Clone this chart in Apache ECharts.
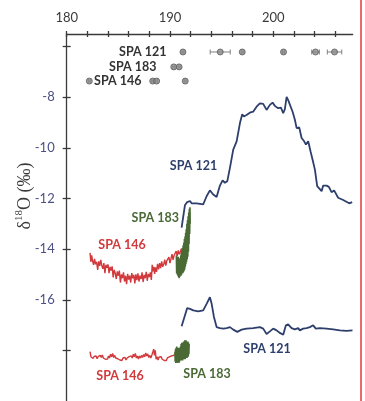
<!DOCTYPE html>
<html>
<head>
<meta charset="utf-8">
<script src="https://cdn.jsdelivr.net/npm/echarts@6/dist/echarts.min.js"></script>
<style>
  html, body { margin: 0; padding: 0; background: #fff; }
  #chart { width: 365px; height: 401px; }
</style>
</head>
<body>
<div id="chart"></div>
<script>
// axis ticks / labels
const xTicks = [180, 182, 184, 186, 188, 190, 192, 194, 196, 198, 200, 202, 204, 206];
const xLabels = [180, 190, 200];
const yTicks = [-18, -16, -14, -12, -10, -8, -6];
const yLabels = [-16, -14, -12, -10, -8];

// U-Th dates (ka) and 2σ errors, one row per stalagmite
const dates121 = [191.26, 194.87, 197.0, 201.0, 204.1, 205.94];
const err121 = [0.1, 0.97, 0.1, 0.1, 0.37, 0.7];
const dates183 = [190.37, 190.89];
const err183 = [0.1, 0.1];
const dates146 = [182.19, 188.33, 188.71, 191.48];
const err146 = [0.1, 0.1, 0.1, 0.1];
const rowLevel = [-6.21, -6.8, -7.36]; // 121, 183, 146

// SPA 121 upper record [age, value]
const spa121a = [[191.13,-13.15],[191.29,-13.19],[191.45,-12.27],[191.67,-12.14],[191.94,-12.10],[192.10,-12.19],[192.26,-12.13],[192.58,-12.19],[193.22,-12.23],[193.55,-11.91],[193.87,-11.68],[194.19,-11.84],[194.52,-11.94],[194.84,-11.49],[195.10,-11.28],[195.32,-11.38],[195.55,-11.32],[195.81,-10.79],[196.13,-10.07],[196.46,-9.74],[196.78,-9.02],[197.00,-8.67],[197.16,-8.76],[197.42,-8.70],[197.74,-8.61],[198.06,-8.57],[198.39,-8.37],[198.71,-8.24],[199.03,-8.26],[199.36,-8.50],[199.68,-8.30],[199.94,-8.21],[200.16,-8.34],[200.48,-8.43],[200.75,-8.41],[200.97,-8.63],[201.13,-8.47],[201.30,-7.98],[201.45,-8.11],[201.62,-8.04],[201.88,-8.57],[202.10,-8.89],[202.27,-9.22],[202.52,-9.19],[202.75,-9.61],[203.00,-9.74],[203.17,-9.87],[203.39,-9.74],[203.62,-10.14],[203.81,-10.46],[203.94,-10.44],[204.04,-10.86],[204.26,-11.51],[204.45,-11.49],[204.69,-11.71],[204.84,-11.49],[205.17,-11.49],[205.39,-11.54],[205.65,-11.75],[205.90,-11.68],[206.29,-11.97],[206.78,-12.06],[207.36,-12.19],[207.65,-12.14]];

// SPA 121 lower record
const spa121b = [[191.13,-17.05],[191.29,-17.08],[191.45,-16.62],[191.67,-16.33],[191.94,-16.36],[192.26,-16.42],[192.74,-16.46],[193.22,-16.42],[193.55,-16.16],[193.87,-15.90],[194.04,-16.16],[194.26,-16.68],[194.52,-17.08],[194.84,-17.12],[195.16,-17.14],[195.49,-17.12],[195.81,-17.08],[196.13,-17.18],[196.52,-17.27],[196.94,-17.18],[197.42,-17.14],[198.06,-17.12],[198.71,-17.08],[199.03,-17.14],[199.36,-17.35],[199.68,-17.25],[200.0,-17.14],[200.33,-17.21],[200.65,-17.31],[200.97,-17.38],[201.23,-17.01],[201.45,-16.97],[201.78,-17.12],[202.10,-17.17],[202.42,-17.12],[202.58,-17.21],[202.90,-17.14],[203.23,-17.12],[203.55,-17.08],[203.87,-17.01],[204.13,-17.14],[204.52,-17.12],[205.17,-17.14],[205.81,-17.17],[206.46,-17.21],[207.10,-17.23],[207.68,-17.21]];

// SPA 146 upper record
const spa146a = [[182.26,-14.15],[182.34,-14.5],[182.42,-14.25],[182.5,-14.45],[182.6,-14.62],[182.7,-14.38],[182.8,-14.6],[182.9,-14.5],[183.0,-14.82],[183.1,-14.48],[183.2,-14.66],[183.3,-14.42],[183.4,-14.65],[183.5,-14.78],[183.6,-14.55],[183.7,-14.95],[183.8,-14.62],[183.9,-14.74],[184.0,-14.6],[184.1,-14.95],[184.2,-14.7],[184.3,-14.85],[184.4,-14.68],[184.5,-15.12],[184.6,-14.82],[184.7,-14.95],[184.8,-15.18],[184.9,-14.88],[185.0,-15.05],[185.1,-14.85],[185.2,-15.32],[185.3,-15.0],[185.4,-15.15],[185.5,-14.92],[185.6,-15.28],[185.7,-15.05],[185.8,-15.38],[185.9,-14.98],[186.0,-15.2],[186.1,-15.05],[186.2,-15.32],[186.3,-14.95],[186.4,-15.15],[186.5,-15.02],[186.6,-15.35],[186.7,-15.0],[186.8,-15.22],[186.9,-14.96],[187.0,-15.28],[187.1,-15.05],[187.2,-15.18],[187.3,-14.92],[187.4,-15.3],[187.5,-15.02],[187.6,-15.15],[187.7,-14.9],[187.8,-15.25],[187.9,-14.98],[188.0,-15.1],[188.1,-14.92],[188.2,-15.22],[188.28,-14.62],[188.36,-14.88],[188.44,-14.7],[188.52,-14.98],[188.6,-14.72],[188.7,-14.9],[188.8,-14.58],[188.9,-14.8],[189.0,-14.55],[189.1,-14.75],[189.2,-14.48],[189.3,-14.7],[189.4,-14.6],[189.5,-14.42],[189.6,-14.65],[189.7,-14.45],[189.8,-14.52],[189.9,-14.32],[190.0,-14.55],[190.1,-14.38],[190.2,-14.2],[190.3,-14.42],[190.4,-14.25],[190.5,-14.3],[190.6,-14.08],[190.7,-14.28],[190.8,-14.05],[190.9,-14.2],[191.0,-14.12],[191.1,-13.98],[191.2,-14.22],[191.3,-14.05],[191.4,-14.15],[191.5,-13.98],[191.6,-14.1]];

// SPA 146 lower record
const spa146b = [[182.26,-18.05],[182.35,-18.25],[182.45,-18.2],[182.55,-18.32],[182.65,-18.24],[182.75,-18.3],[182.85,-18.22],[182.95,-18.33],[183.05,-18.25],[183.15,-18.3],[183.25,-18.2],[183.35,-18.28],[183.45,-18.18],[183.55,-18.3],[183.65,-18.24],[183.75,-18.35],[183.85,-18.28],[183.95,-18.34],[184.05,-18.22],[184.15,-18.3],[184.25,-18.15],[184.35,-18.25],[184.45,-18.12],[184.55,-18.28],[184.65,-18.2],[184.75,-18.3],[184.85,-18.24],[184.95,-18.33],[185.05,-18.28],[185.15,-18.38],[185.25,-18.32],[185.35,-18.4],[185.45,-18.3],[185.55,-18.36],[185.65,-18.28],[185.75,-18.38],[185.85,-18.3],[185.95,-18.35],[186.05,-18.25],[186.15,-18.32],[186.25,-18.22],[186.35,-18.3],[186.45,-18.15],[186.55,-18.25],[186.65,-18.12],[186.75,-18.3],[186.85,-18.22],[186.95,-18.34],[187.05,-18.22],[187.15,-18.3],[187.25,-18.2],[187.35,-18.28],[187.45,-18.16],[187.55,-18.25],[187.65,-18.1],[187.75,-18.22],[187.85,-18.14],[187.95,-18.28],[188.05,-18.2],[188.15,-18.3],[188.25,-18.18],[188.35,-18.05],[188.42,-17.95],[188.5,-18.2],[188.58,-18.0],[188.66,-18.35],[188.75,-18.25],[188.85,-18.38],[188.95,-18.26],[189.05,-18.32],[189.15,-18.25],[189.25,-18.35],[189.35,-18.3],[189.45,-18.4],[189.55,-18.36],[189.65,-18.4],[189.75,-18.3],[189.85,-18.33],[189.95,-18.26],[190.05,-18.3],[190.15,-18.22],[190.25,-18.28],[190.35,-18.2],[190.45,-18.25],[190.55,-18.12],[190.65,-18.2],[190.75,-18.1],[190.85,-18.18]];

// SPA 183 upper record
const spa183a = [[190.62,-14.25],[190.65,-14.95],[190.68,-14.3],[190.71,-15.0],[190.74,-14.35],[190.77,-15.05],[190.80,-14.3],[190.83,-15.1],[190.86,-14.45],[190.89,-15.15],[190.92,-14.4],[190.95,-15.1],[190.98,-14.35],[191.01,-15.05],[191.04,-14.25],[191.07,-15.05],[191.10,-14.15],[191.13,-15.0],[191.16,-14.05],[191.19,-14.95],[191.22,-13.95],[191.25,-14.95],[191.28,-13.85],[191.31,-14.9],[191.34,-13.75],[191.37,-14.85],[191.40,-13.6],[191.43,-14.8],[191.46,-13.5],[191.49,-14.7],[191.52,-13.35],[191.55,-14.6],[191.58,-13.2],[191.61,-14.5],[191.64,-13.0],[191.67,-14.4],[191.70,-12.85],[191.73,-14.3],[191.76,-12.7],[191.79,-14.1],[191.82,-12.55],[191.85,-13.8],[191.88,-12.4],[191.91,-13.4],[191.94,-12.35],[191.96,-13.0]];

// SPA 183 lower record
const spa183b = [[190.48,-18.05],[190.51,-18.45],[190.54,-17.95],[190.57,-18.5],[190.60,-17.9],[190.63,-18.45],[190.66,-17.85],[190.69,-18.5],[190.72,-17.95],[190.75,-18.45],[190.78,-17.9],[190.81,-18.4],[190.84,-18.0],[190.87,-18.5],[190.90,-17.9],[190.93,-18.45],[190.96,-17.95],[190.99,-18.4],[191.02,-17.85],[191.05,-18.35],[191.08,-17.75],[191.11,-18.4],[191.14,-17.7],[191.17,-18.35],[191.20,-17.75],[191.23,-18.4],[191.26,-17.7],[191.29,-18.3],[191.32,-17.65],[191.35,-18.35],[191.38,-17.7],[191.41,-18.3],[191.44,-17.6],[191.47,-18.35],[191.50,-17.65],[191.53,-18.3],[191.56,-17.6],[191.59,-18.25],[191.62,-17.65],[191.65,-18.3],[191.68,-17.7],[191.71,-18.2],[191.74,-17.65],[191.77,-18.25],[191.80,-17.7],[191.83,-18.15],[191.86,-17.75]];

const NAVY = '#2e3f6d';
const RED = '#d2393c';
const GREEN = '#4a6a35';
const AXIS = '#3a3a3a';

// text annotations (pixel positions)
const notes = [
    { t: 'SPA 121', x: 166.5, y: 52, c: '#333', a: 'right' },
    { t: 'SPA 183', x: 156.5, y: 67, c: '#333', a: 'right' },
    { t: 'SPA 146', x: 141.5, y: 81, c: '#333', a: 'right' },
    { t: 'SPA 121', x: 193.5, y: 166, c: NAVY, a: 'center' },
    { t: 'SPA 183', x: 155.3, y: 218, c: GREEN, a: 'center' },
    { t: 'SPA 146', x: 122, y: 245, c: RED, a: 'center' },
    { t: 'SPA 121', x: 267, y: 349, c: NAVY, a: 'center' },
    { t: 'SPA 146', x: 120, y: 376, c: RED, a: 'center' },
    { t: 'SPA 183', x: 207, y: 374, c: GREEN, a: 'center' }
];

function rowData(dates, errs, level) {
    return dates.map((d, i) => [d, level, errs[i]]);
}
const datePoints = [].concat(
    rowData(dates121, err121, rowLevel[0]),
    rowData(dates183, err183, rowLevel[1]),
    rowData(dates146, err146, rowLevel[2])
);

function lineSeries(data, color, width) {
    return {
        type: 'line',
        data: data,
        showSymbol: false,
        symbol: 'none',
        lineStyle: { color: color, width: width },
        itemStyle: { color: color },
        silent: true
    };
}

const chart = echarts.init(document.getElementById('chart'));

const baseX = {
    type: 'value', position: 'top', min: 180, max: 207.7,
    splitLine: { show: false }
};
const baseY = {
    type: 'value', position: 'left', min: -20, max: -5.5,
    splitLine: { show: false }
};

chart.setOption({
    animation: false,
    grid: { left: 66.7, top: 34, width: 286, height: 369 },
    xAxis: [
        Object.assign({}, baseX, {
            axisLine: { show: true, onZero: false, lineStyle: { color: AXIS, width: 1.3 } },
            axisTick: { show: true, length: 3, customValues: xTicks, lineStyle: { color: AXIS, width: 1.3 } },
            axisLabel: { customValues: xLabels, color: AXIS, fontSize: 13, fontFamily: 'Lato', margin: 10 }
        }),
        Object.assign({}, baseX, {
            axisLine: { show: false },
            axisTick: { show: true, inside: true, length: 3, customValues: xTicks, lineStyle: { color: AXIS, width: 1.3 } },
            axisLabel: { show: false }
        })
    ],
    yAxis: [
        Object.assign({}, baseY, {
            axisLine: { show: true, onZero: false, lineStyle: { color: AXIS, width: 1.3 } },
            axisTick: { show: true, length: 4, customValues: yTicks, lineStyle: { color: AXIS, width: 1.3 } },
            axisLabel: { customValues: yLabels, color: '#4b5184', fontSize: 13, fontFamily: 'Lato', margin: 12 }
        }),
        Object.assign({}, baseY, {
            axisLine: { show: false },
            axisTick: { show: true, inside: true, length: 4, customValues: yTicks, lineStyle: { color: AXIS, width: 1.3 } },
            axisLabel: { show: false }
        })
    ],
    series: [
        lineSeries(spa146a, RED, 1.4),
        lineSeries(spa146b, RED, 1.4),
        lineSeries(spa121a, NAVY, 1.8),
        lineSeries(spa121b, NAVY, 1.8),
        lineSeries(spa183a, GREEN, 1.6),
        lineSeries(spa183b, GREEN, 1.6),
        {
            // error bars of the dates
            type: 'custom',
            data: datePoints,
            silent: true,
            renderItem: function (params, api) {
                const c = api.coord([api.value(0), api.value(1)]);
                const lo = api.coord([api.value(0) - api.value(2), api.value(1)])[0];
                const hi = api.coord([api.value(0) + api.value(2), api.value(1)])[0];
                const st = { stroke: '#808080', lineWidth: 1 };
                return {
                    type: 'group',
                    children: [
                        { type: 'line', shape: { x1: lo, y1: c[1], x2: hi, y2: c[1] }, style: st },
                        { type: 'line', shape: { x1: lo, y1: c[1] - 2.5, x2: lo, y2: c[1] + 2.5 }, style: st },
                        { type: 'line', shape: { x1: hi, y1: c[1] - 2.5, x2: hi, y2: c[1] + 2.5 }, style: st }
                    ]
                };
            }
        },
        {
            type: 'scatter',
            data: datePoints.map(p => [p[0], p[1]]),
            symbolSize: 6,
            silent: true,
            itemStyle: { color: '#8a8a8a', borderColor: '#5e5e5e', borderWidth: 1 }
        }
    ],
    graphic: [
        {
            type: 'line', silent: true,
            shape: { x1: 361, y1: 0, x2: 361, y2: 401 },
            style: { stroke: '#e0393b', lineWidth: 1.5 }
        },
        {
            type: 'text', silent: true,
            x: 25, y: 196, rotation: Math.PI / 2,
            style: {
                text: '{a|δ}{s|18}{a|O (‰)}',
                align: 'center', verticalAlign: 'middle',
                fill: '#3a3a3a',
                rich: {
                    a: { fontSize: 18, fontFamily: 'Liberation Serif', lineHeight: 22, fill: '#3a3a3a' },
                    s: { fontSize: 11, fontFamily: 'Liberation Serif', verticalAlign: 'top', fill: '#3a3a3a' }
                }
            }
        }
    ].concat(notes.map(n => ({
        type: 'text', silent: true,
        x: n.x, y: n.y,
        style: {
            text: n.t, fill: n.c,
            font: 'bold 12.5px Lato',
            align: n.a, verticalAlign: 'middle'
        }
    })))
});
</script>
</body>
</html>
